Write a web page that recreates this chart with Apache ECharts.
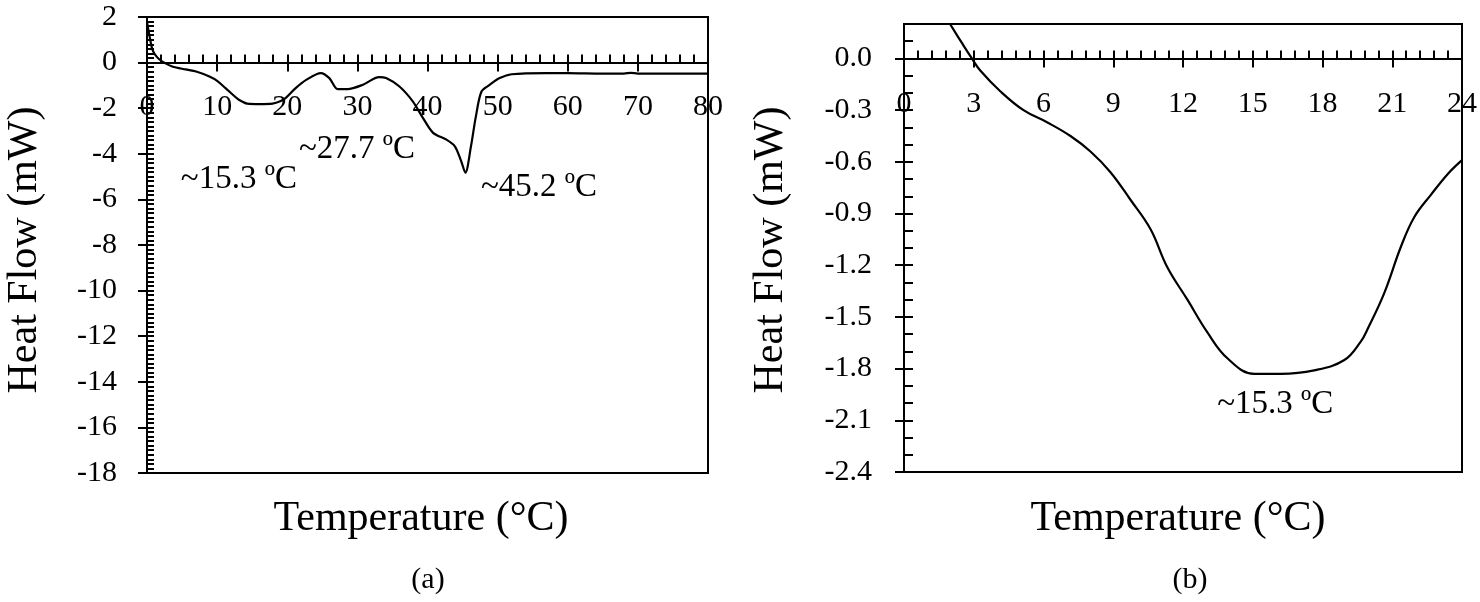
<!DOCTYPE html>
<html>
<head>
<meta charset="utf-8">
<script src="https://cdn.jsdelivr.net/npm/echarts@6/dist/echarts.min.js"></script>
<style>
  html, body { margin: 0; padding: 0; background: #fff; }
  #dsc { width: 1480px; height: 602px; }
</style>
</head>
<body>
<div id="dsc"></div>
<script>
// panel (a): full scan 0-80 C
var tempA = [0, 0.4, 0.8, 1.4, 2.2, 3.6, 5.5, 7, 8.9, 10, 11.2, 12.2, 13.1, 14.3, 16, 17.9, 19, 19.8, 21.2, 22.7, 24.8, 26, 27.2, 28.6, 30.8, 33.1, 34.1, 36, 37.9, 39.3, 40.8, 42.7, 43.9, 44.8, 45.4, 46.2, 46.9, 47.7, 48.9, 50.3, 52, 57, 60, 65, 68, 69, 70, 80]
var heatA = [1.8, 1.1, 0.55, 0.25, 0.04, -0.17, -0.3, -0.39, -0.61, -0.8, -1.12, -1.4, -1.63, -1.8, -1.82, -1.8, -1.7, -1.55, -1.12, -0.76, -0.46, -0.68, -1.16, -1.16, -0.97, -0.64, -0.68, -1.05, -1.7, -2.4, -3.08, -3.38, -3.67, -4.32, -4.83, -3.67, -2.36, -1.27, -0.97, -0.68, -0.51, -0.46, -0.46, -0.48, -0.48, -0.45, -0.48, -0.48]
var xTicksA = [0, 10, 20, 30, 40, 50, 60, 70, 80]
var yTicksA = [2, 0, -2, -4, -6, -8, -10, -12, -14, -16, -18]
var notesA = ['~15.3 ºC', '~27.7 ºC', '~45.2 ºC']
var noteAtA = [[13.1, -5.14], [29.95, -3.82], [55.9, -5.45]]

// panel (b): zoom 0-24 C
var tempB = [1.98, 2.49, 2.92, 3.28, 4.14, 5.14, 6.15, 7.16, 8.02, 8.88, 9.74, 10.6, 11.32, 12.19, 13.05, 13.91, 15.06, 16.2, 17.64, 18.94, 19.66, 19.94, 20.66, 21.38, 21.95, 22.67, 23.39, 24]
var heatB = [0.2, 0.09, 0, -0.07, -0.19, -0.3, -0.37, -0.45, -0.54, -0.66, -0.82, -0.99, -1.21, -1.4, -1.59, -1.74, -1.83, -1.83, -1.81, -1.75, -1.64, -1.57, -1.36, -1.09, -0.92, -0.79, -0.67, -0.59]
var xTicksB = [0, 3, 6, 9, 12, 15, 18, 21, 24]
var yTicksB = [0.0, -0.3, -0.6, -0.9, -1.2, -1.5, -1.8, -2.1, -2.4]
var notesB = ['~15.3 ºC']
var noteAtB = [[15.97, -2.01]]

var font = 'Liberation Serif, Times New Roman, serif'
var black = '#000'
var gridA = { left: 147, top: 17, width: 561, height: 456 }
var gridB = { left: 904, top: 24, width: 559, height: 448 }

function pairs (xs, ys) {
  return xs.map(function (x, i) { return [x, ys[i]] })
}

// x axis sits on y = 0, so shift it up from the grid bottom
function zeroOffset (grid, ymin, ymax) {
  return -grid.height * (0 - ymin) / (ymax - ymin)
}

// main axis: line, outward major ticks, labels
function mainAxis (grid, pos, min, max, ticks, fmt, margin, offset) {
  return {
    type: 'value', gridIndex: grid, position: pos, min: min, max: max, offset: offset || 0,
    axisLine: { show: true, onZero: false, lineStyle: { color: black, width: 2 } },
    axisTick: { show: true, inside: false, length: 9, lineStyle: { color: black, width: 2 }, customValues: ticks },
    axisLabel: { show: true, margin: margin, color: black, fontFamily: font, fontSize: 30, formatter: fmt, customValues: ticks },
    splitLine: { show: false }
  }
}

// second axis on same spot: only the short inward minor ticks
function minorAxis (grid, pos, min, max, step, len, offset) {
  return {
    type: 'value', gridIndex: grid, position: pos, min: min, max: max, interval: step, offset: offset || 0,
    axisLine: { show: false, onZero: false },
    axisTick: { show: true, inside: true, length: len, lineStyle: { color: black, width: 2 } },
    axisLabel: { show: false },
    splitLine: { show: false }
  }
}

function noteData (texts, coords) {
  return texts.map(function (t, i) {
    return { coord: coords[i], value: t }
  })
}

var noteLabel = {
  show: true,
  position: 'inside',
  formatter: function (p) { return p.value },
  fontFamily: font,
  fontSize: 33,
  color: black
}

function titleText (x, y, text, size, rot) {
  return {
    type: 'text', x: x, y: y, rotation: rot || 0,
    style: { text: text, fill: black, font: size + 'px ' + font, textAlign: 'center', textVerticalAlign: 'middle' }
  }
}

var offA = zeroOffset(gridA, -18, 2)
var offB = zeroOffset(gridB, -2.4, 0.2)

var chart = echarts.init(document.getElementById('dsc'))
chart.setOption({
  animation: false,
  backgroundColor: '#fff',
  grid: [
    Object.assign({ show: true, borderColor: black, borderWidth: 2 }, gridA),
    Object.assign({ show: true, borderColor: black, borderWidth: 2 }, gridB)
  ],
  xAxis: [
    mainAxis(0, 'bottom', 0, 80, xTicksA, function (v) { return String(v) }, 30, offA),
    minorAxis(0, 'bottom', 0, 80, 2, 8, offA),
    mainAxis(1, 'bottom', 0, 24, xTicksB, function (v) { return String(v) }, 31, offB),
    minorAxis(1, 'bottom', 0, 24, 0.6, 8, offB)
  ],
  yAxis: [
    mainAxis(0, 'left', -18, 2, yTicksA, function (v) { return String(Math.round(v)) }, 30),
    minorAxis(0, 'left', -18, 2, 0.2, 7),
    mainAxis(1, 'left', -2.4, 0.2, yTicksB, function (v) { return v.toFixed(1) }, 32),
    minorAxis(1, 'left', -2.4, 0.2, 0.1, 9)
  ],
  series: [
    {
      type: 'line', xAxisIndex: 0, yAxisIndex: 0, data: pairs(tempA, heatA),
      smooth: 0.3, showSymbol: false, lineStyle: { color: black, width: 2.2 },
      markPoint: { symbol: 'circle', symbolSize: 1, itemStyle: { color: 'rgba(0,0,0,0)' }, label: noteLabel, data: noteData(notesA, noteAtA) }
    },
    {
      type: 'line', xAxisIndex: 2, yAxisIndex: 2, data: pairs(tempB, heatB),
      smooth: 0.4, showSymbol: false, lineStyle: { color: black, width: 2.2 },
      markPoint: { symbol: 'circle', symbolSize: 1, itemStyle: { color: 'rgba(0,0,0,0)' }, label: noteLabel, data: noteData(notesB, noteAtB) }
    }
  ],
  graphic: [
    titleText(25, 250, 'Heat Flow (mW)', 42, Math.PI / 2),
    titleText(771, 250, 'Heat Flow (mW)', 42, Math.PI / 2),
    titleText(421, 519, 'Temperature (°C)', 42),
    titleText(1178, 519, 'Temperature (°C)', 42),
    titleText(428, 580, '(a)', 30),
    titleText(1190, 580, '(b)', 30)
  ]
})
</script>
</body>
</html>
